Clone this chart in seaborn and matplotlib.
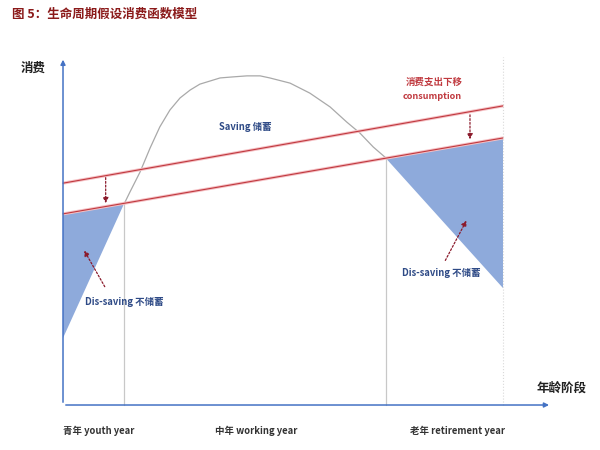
import numpy as np
import pandas as pd
import seaborn as sns
import matplotlib.pyplot as plt
from matplotlib.patches import Polygon

# income curve (hump), x = age stage, y = level
income_x = [13.9, 15.2, 17.5, 19.8, 22.0, 24.3, 26.6, 28.9, 31.1, 33.4, 35.7,
            38.6, 41.8, 44.8, 47.0, 51.6, 56.1, 60.7, 64.5, 67.5, 70.5, 73.4]
income_y = [58.3, 61.7, 67.5, 74.5, 80.6, 85.5, 89.0, 91.3, 93.0, 93.9, 94.8,
            95.1, 95.4, 95.4, 94.8, 93.3, 90.4, 86.4, 82.0, 78.8, 74.8, 71.6]

# consumption lines (before / after shift down)
cons_x = [0, 100]
cons_high = [64.3, 86.7]
cons_low = [55.4, 77.4]

# dis-saving areas
youth_x = [0, 13.9, 0]
youth_y = [55.4, 58.4, 19.4]
old_x = [73.4, 100, 100]
old_y = [71.5, 77.4, 33.9]

stage_edges = [13.9, 73.4]
stage_labels = ['青年 youth year', '中年 working year', '老年 retirement year']
stage_label_x = [0, 34.5, 78.9]

sns.set_theme(style='white')
plt.rcParams['font.family'] = ['Noto Sans CJK SC', 'DejaVu Sans']

fig = plt.figure(figsize=(6, 4.5), dpi=100)
ax = fig.add_axes([0, 0, 1, 1])

blue = '#4472c4'
fill_c = '#8eaadb'
red = '#c0393f'
dark_red = '#8b1a2b'
text_blue = '#2e4a86'

# shaded dis-saving
ax.add_patch(Polygon(list(zip(youth_x, youth_y)), closed=True, color=fill_c, lw=0))
ax.add_patch(Polygon(list(zip(old_x, old_y)), closed=True, color=fill_c, lw=0))

# stage separators
ax.plot([stage_edges[0]] * 2, [0, income_y[0]], color='#c8c8c8', lw=0.9)
ax.plot([stage_edges[1]] * 2, [0, income_y[-1]], color='#c8c8c8', lw=0.9)
ax.plot([100, 100], [0, 100.9], color='#d9d9d9', lw=0.8, ls=':')

# income curve
inc = pd.DataFrame({'x': income_x, 'y': income_y})
sns.lineplot(data=inc, x='x', y='y', sort=False, color='#a9a9a9', lw=0.9, ax=ax)

# consumption lines with soft pink halo
cons = pd.DataFrame({'x': cons_x * 2, 'y': cons_high + cons_low,
                     'line': ['high'] * 2 + ['low'] * 2})
for name, g in cons.groupby('line'):
    ax.plot(g['x'], g['y'], color='#f5c0c4', lw=2.2, solid_capstyle='butt')
    sns.lineplot(data=g, x='x', y='y', color=red, lw=0.8, ax=ax)

ax.set_xlim(-14.32, 122.05)
ax.set_ylim(-13.04, 117.39)
ax.axis('off')

# axes with arrows
ax.annotate('', xy=(111.1, 0), xytext=(0, 0),
            arrowprops=dict(arrowstyle='-|>', color=blue, lw=1.1, mutation_scale=7))
ax.annotate('', xy=(0, 100.9), xytext=(0, 0),
            arrowprops=dict(arrowstyle='-|>', color=blue, lw=1.1, mutation_scale=7))

# dotted arrows
arr = dict(arrowstyle='-|>', color=dark_red, lw=0.9, ls=(0, (1.5, 1.5)), mutation_scale=8)
ax.annotate('', xy=(9.7, 57.7), xytext=(9.7, 66.7), arrowprops=arr)
ax.annotate('', xy=(92.5, 76.2), xytext=(92.5, 84.9), arrowprops=arr)
ax.annotate('', xy=(4.5, 45.5), xytext=(9.8, 33.6), arrowprops=arr)
ax.annotate('', xy=(92.0, 54.2), xytext=(86.6, 41.2), arrowprops=arr)

# labels
ax.text(-6.8, 97.7, '消费', fontsize=9, fontweight='bold', color='#222222',
        ha='center', va='center')
ax.text(113.4, 4.9, '年龄阶段', fontsize=9, fontweight='bold', color='#222222',
        ha='center', va='center')
ax.text(41.4, 80.6, 'Saving 储蓄', fontsize=6.8, fontweight='bold', color=text_blue,
        ha='center', va='center')
ax.text(84.3, 93.6, '消费支出下移', fontsize=6.8, fontweight='bold', color=red,
        ha='center', va='center')
ax.text(83.9, 89.3, 'consumption', fontsize=6.5, fontweight='bold', color=red,
        ha='center', va='center')
ax.text(13.9, 29.9, 'Dis-saving 不储蓄', fontsize=6.8, fontweight='bold', color=text_blue,
        ha='center', va='center')
ax.text(85.9, 38.3, 'Dis-saving 不储蓄', fontsize=6.8, fontweight='bold', color=text_blue,
        ha='center', va='center')
for lx, lab in zip(stage_label_x, stage_labels):
    ax.text(lx, -7.5, lab, fontsize=6.8, fontweight='bold', color='#333333',
            ha='left', va='center')

fig.text(12 / 600, 1 - 14 / 450, '图 5：生命周期假设消费函数模型', fontsize=9,
         fontweight='bold', color='#8b1a1a', ha='left', va='center')

fig.savefig('out.png', dpi=100)
